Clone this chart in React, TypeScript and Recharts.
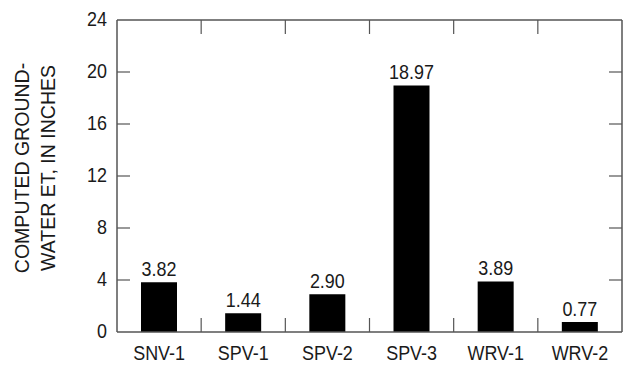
import React from 'react';
import { BarChart, Bar, XAxis, YAxis, LabelList } from 'recharts';

// Computed ground-water evapotranspiration by site, in inches
const sites = ['SNV-1', 'SPV-1', 'SPV-2', 'SPV-3', 'WRV-1', 'WRV-2'];
const etInches = [3.82, 1.44, 2.9, 18.97, 3.89, 0.77];
const yTicks = [0, 4, 8, 12, 16, 20, 24];
const titleLines = ['COMPUTED GROUND-', 'WATER ET, IN INCHES'];

const data = sites.map((site, i) => ({ site, et: etInches[i] }));

// Layout
const CHART_W = 623;
const CHART_H = 366;
const MARGIN = { top: 20, right: 1, bottom: 0, left: 0 };
const Y_AXIS_W = 117;
const X_AXIS_H = 34;
const PLOT_X = MARGIN.left + Y_AXIS_W;
const PLOT_Y = MARGIN.top;
const PLOT_W = CHART_W - MARGIN.left - MARGIN.right - Y_AXIS_W;
const PLOT_H = CHART_H - MARGIN.top - MARGIN.bottom - X_AXIS_H;
const Y_MAX = yTicks[yTicks.length - 1];
const V_TICK = 14; // separator tick length (top and bottom)
const H_TICK = 13; // value tick length (left and right)
const Y_LABEL_GAP = 10;
const X_LABEL_GAP = 28;

const FONT = '"Liberation Sans", Arial, sans-serif';
const AXIS = '#555';
const TEXT = '#1a1a1a';
const SIZE = 21;
const NARROW = 0.855;
const FRAME_W = 1.5;
const TICK_W = 1.2;

// Horizontally condensed text
const Txt = ({ x, y, anchor = 'middle', rotate = 0, sx = NARROW, children }: any) => (
  <g transform={`translate(${x},${y}) rotate(${rotate}) scale(${sx},1)`}>
    <text x={0} y={0} textAnchor={anchor} fontFamily={FONT} fontSize={SIZE} fill={TEXT}>
      {children}
    </text>
  </g>
);

const SiteTick = (props: any) => (
  <Txt x={props.x} y={props.y}>{props.payload.value}</Txt>
);

const ValueTick = (props: any) => (
  <Txt x={props.x} y={Number(props.y) + 6} anchor="end">{props.payload.value}</Txt>
);

const YTitle = (props: any) => {
  const { viewBox } = props;
  const cy = viewBox.y + viewBox.height / 2 - 8;
  const xs = [viewBox.x + 28.5, viewBox.x + 55];
  return (
    <g>
      {titleLines.map((t, i) => (
        <Txt key={t} x={xs[i]} y={cy} rotate={-90} sx={0.93}>
          {t}
        </Txt>
      ))}
    </g>
  );
};

const ValueLabel = (props: any) => {
  const { x, y, width, value } = props;
  return <Txt x={Number(x) + Number(width) / 2} y={Number(y) - 6}>{Number(value).toFixed(2)}</Txt>;
};

// Top/right frame with inward ticks, laid over the plot area
const Frame = () => {
  const right = PLOT_X + PLOT_W;
  const bottom = PLOT_Y + PLOT_H;
  const band = PLOT_W / sites.length;
  return (
    <svg
      width={CHART_W}
      height={CHART_H}
      style={{ position: 'absolute', left: 0, top: 0, pointerEvents: 'none' }}
    >
      <line x1={PLOT_X} x2={right} y1={PLOT_Y} y2={PLOT_Y} stroke={AXIS} strokeWidth={FRAME_W} />
      <line x1={right} x2={right} y1={PLOT_Y} y2={bottom} stroke={AXIS} strokeWidth={FRAME_W} />
      {yTicks.slice(1, -1).map((v) => {
        const y = bottom - (v / Y_MAX) * PLOT_H;
        return (
          <g key={`v${v}`}>
            <line x1={PLOT_X} x2={PLOT_X + H_TICK} y1={y} y2={y} stroke={AXIS} strokeWidth={TICK_W} />
            <line x1={right - H_TICK} x2={right} y1={y} y2={y} stroke={AXIS} strokeWidth={TICK_W} />
          </g>
        );
      })}
      {sites.slice(1).map((s, i) => {
        const x = PLOT_X + (i + 1) * band;
        return (
          <g key={`s${s}`}>
            <line x1={x} x2={x} y1={PLOT_Y} y2={PLOT_Y + V_TICK} stroke={AXIS} strokeWidth={TICK_W} />
            <line x1={x} x2={x} y1={bottom - V_TICK} y2={bottom} stroke={AXIS} strokeWidth={TICK_W} />
          </g>
        );
      })}
    </svg>
  );
};

const frameLine = { stroke: AXIS, strokeWidth: FRAME_W };

export default function App() {
  return (
    <div style={{ position: 'absolute', left: 0, top: 0, width: CHART_W, height: CHART_H, background: '#fff' }}>
      <BarChart width={CHART_W} height={CHART_H} data={data} margin={MARGIN}>
        <XAxis
          xAxisId="site"
          dataKey="site"
          height={X_AXIS_H}
          axisLine={frameLine}
          tickLine={false}
          tickSize={0}
          tickMargin={X_LABEL_GAP}
          tick={<SiteTick />}
        />
        <YAxis
          yAxisId="et"
          domain={[0, Y_MAX]}
          ticks={yTicks}
          width={Y_AXIS_W}
          axisLine={frameLine}
          tickLine={false}
          tickSize={0}
          tickMargin={Y_LABEL_GAP}
          tick={<ValueTick />}
          label={<YTitle />}
        />
        <Bar
          dataKey="et"
          xAxisId="site"
          yAxisId="et"
          fill="#000"
          barSize={36}
          isAnimationActive={false}
        >
          <LabelList dataKey="et" content={<ValueLabel />} />
        </Bar>
      </BarChart>
      <Frame />
    </div>
  );
}
